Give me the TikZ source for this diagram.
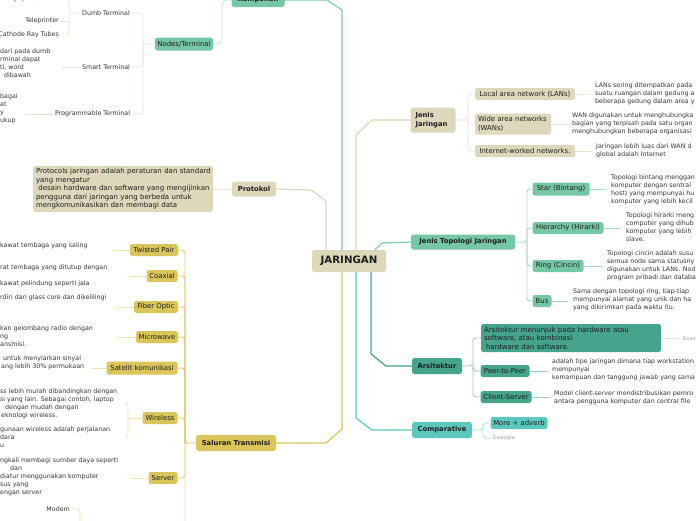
\documentclass[tikz,border=0pt]{standalone}
\usepackage{fontspec}
\setmainfont{DejaVu Sans}
\usetikzlibrary{calc}
\definecolor{cBeige}{HTML}{DDD8BB}
\definecolor{cGreen}{HTML}{76C7A6}
\definecolor{cMus}{HTML}{D9C55A}
\definecolor{cTeal}{HTML}{45A48B}
\definecolor{cTeal2}{HTML}{5CC7BD}
\definecolor{cInk}{HTML}{1E1E1E}
\definecolor{lGreen}{HTML}{7FCBB0}
\definecolor{lGreen2}{HTML}{C6E7DA}
\definecolor{lPale}{HTML}{E3E6CE}
\definecolor{lBeige}{HTML}{DDD6B8}
\definecolor{lBeige2}{HTML}{EBE7D3}
\definecolor{lMus}{HTML}{D9C55A}
\definecolor{lMus2}{HTML}{DDCB70}
\definecolor{lMus3}{HTML}{EFE4AE}
\definecolor{lTopo}{HTML}{A3D9C2}
\definecolor{lTeal}{HTML}{45A48B}
\definecolor{lTeal2}{HTML}{98CEBF}
\definecolor{lComp}{HTML}{5CC7BD}
\definecolor{lComp2}{HTML}{A9E0DA}
\begin{document}
\begin{tikzpicture}[x=1pt,y=-1pt,line join=round,line cap=round,
  box/.style={rounded corners=2.5pt, inner sep=0pt, align=center, text=cInk, font=\fontsize{6.9}{8}\selectfont},
  bbox/.style={box, font=\fontsize{6.8}{8}\selectfont\bfseries},
  tx/.style={inner sep=0pt, align=left, text=cInk!90, font=\fontsize{6.3}{7.9}\selectfont},
  ex/.style={inner sep=0pt, text=black!40, font=\fontsize{5}{6}\selectfont},
  m1/.style={line width=1.2pt},
  m2/.style={line width=0.9pt, rounded corners=3pt},
  m3/.style={line width=0.75pt, rounded corners=3pt}]
\useasboundingbox (0,0) rectangle (696,520);

% ---------- centre ----------
\node[bbox, fill=cBeige, minimum width=74pt, minimum height=22pt, font=\fontsize{10.2}{12}\selectfont\bfseries] (J) at (349,261) {JARINGAN};

% ---------- Komponen ----------
\node[bbox, fill=cGreen, minimum width=53pt, minimum height=14pt] (K) at (258,0) {Komponen};
\node[box, fill=cGreen, minimum width=58pt, minimum height=13pt] (NT) at (184,44) {Nodes/Terminal};
\node[tx, anchor=west] (DT) at (82,13) {Dumb Terminal};
\node[tx, anchor=west] (ST) at (82,67) {Smart Terminal};
\node[tx, anchor=west] (PG) at (55,114) {Programmable Terminal};
\node[tx, anchor=east] (EP) at (43,-1) {kerja proses};
\node[tx, anchor=east] (TP) at (59,21) {Teleprinter};
\node[tx, anchor=east] (CR) at (59,35) {Cathode Ray Tubes};
\node[tx, anchor=north west] (STd) at (0,49) {dari pada dumb\\rminal dapat\\ti, word\\\hspace*{4pt}dibawah};
\node[tx, anchor=north west] (PGd) at (0,94) {bagai\\at\\y\\ukup};

\draw[m1, draw=lGreen] ([xshift=-7pt]J.north) -- (342,10) -- (327,0) -- (K.east);
\draw[m2, draw=lGreen2, rounded corners=5pt] (K.west) -- (222,0) -- (222,44) -- (NT.east);
\draw[m3, draw=lPale] ([xshift=3pt]DT.east) -- (143,13) -- (143,44) -- (NT.west);
\draw[m3, draw=lPale] ([xshift=3pt]ST.east) -- (143,67) -- (143,44);
\draw[m3, draw=lPale] ([xshift=3pt]PG.east) -- (143,114) -- (143,44);
\draw[m3, draw=lPale] ([xshift=-2pt]DT.west) -- (69,13) -- (69,-1) -- ([xshift=3pt]EP.east);
\draw[m3, draw=lPale] (69,13) -- (69,35) -- ([xshift=2pt]CR.east);
\draw[m3, draw=lPale] ([xshift=2pt]TP.east) -- (69,21);
\draw[m3, draw=lPale] ([xshift=-3pt]ST.west) -- ($(STd.east |- ST.west)+(12,0)$);
\draw[m3, draw=lPale] ([xshift=-3pt]PG.west) -- ($(PGd.east |- PG.west)+(7,0)$);

% ---------- Protokol ----------
\node[bbox, fill=cBeige, minimum width=44pt, minimum height=15pt] (P) at (254,189) {Protokol};
\node[box, fill=cBeige, text width=174pt, inner xsep=3pt, align=left, minimum height=46pt, font=\fontsize{7}{8.5}\selectfont] (Pd) at (123,189)
 {\mbox{Protocols jaringan adalah peraturan dan standard}\\yang mengatur\\\mbox{\ desain hardware dan software yang mengijinkan}\\pengguna dari jaringan yang berbeda untuk\\mengkomunikasikan dan membagi data};
\draw[m1, draw=lBeige] ([xshift=-23pt]J.north) -- (326,201) -- (311,190) -- (P.east);
\draw[m3, draw=lBeige2] (Pd.east) -- (P.west);

% ---------- Saluran Transmisi ----------
\node[bbox, fill=cMus, minimum width=80pt, minimum height=16pt] (S) at (236,443) {Saluran Transmisi};
\node[box, fill=cMus, minimum width=48pt, minimum height=12pt] (TW) at (154,250) {Twisted Pair};
\node[box, fill=cMus, minimum width=31pt, minimum height=12pt] (CO) at (162,276) {Coaxial};
\node[box, fill=cMus, minimum width=44pt, minimum height=12pt] (FO) at (156,307) {Fiber Optic};
\node[box, fill=cMus, minimum width=42pt, minimum height=12pt] (MW) at (157,337) {Microwave};
\node[box, fill=cMus, minimum width=71pt, minimum height=13pt] (SK) at (142,368) {Satelit komunikasi};
\node[box, fill=cMus, minimum width=35pt, minimum height=12pt] (WL) at (160,418) {Wireless};
\node[box, fill=cMus, minimum width=29pt, minimum height=12pt] (SV) at (163,478) {Server};

\node[tx, anchor=north west] (TWd) at (0,243) {kawat tembaga yang saling};
\node[tx, anchor=north west] (COd) at (0,265) {rat tembaga yang ditutup dengan\\[8pt]kawat pelindung seperti jala};
\node[tx, anchor=north west] (FOd) at (0,295) {rdiri dari glass core dan dikelilingi};
\node[tx, anchor=north west] (MWd) at (0,326) {kan gelombang radio dengan\\ng\\ansmisi.};
\node[tx, anchor=north west] (SKd) at (1,356) {\hspace*{2pt}untuk menyiarkan sinyal\\ang lebih 30\% permukaan};
\node[tx, anchor=north west] (WLa) at (0,389) {ss lebih murah dibandingkan dengan\\si yang lain. Sebagai contoh, laptop\\\hspace*{5pt}dengan mudah dengan\\\hspace*{1pt}eknologi wireless.};
\node[tx, anchor=north west] (WLb) at (0,427) {gunaan wireless adalah perjalanan\\dara\\u};
\node[tx, anchor=north west] (SVd) at (0,458) {ngkali membagi sumber daya seperti\\\hspace*{10pt}dan\\diatur menggunakan komputer\\sus yang\\engan server};
\node[tx, anchor=east] (MD) at (70,509) {Modem};

\draw[m1, draw=lMus] ([xshift=-7pt]J.south) -- (342,429) -- (326,443) -- (S.east);
\draw[m2, draw=lMus2] (S.west) -- (185,443) -- (185,250) -- (TW.east);
\draw[m2, draw=lMus2] (CO.east) -- (185,276) -- (185,443);
\draw[m2, draw=lMus2] (FO.east) -- (185,307) -- (185,443);
\draw[m2, draw=lMus2] (MW.east) -- (185,337) -- (185,443);
\draw[m2, draw=lMus2] (SK.east) -- (185,368) -- (185,443);
\draw[m2, draw=lMus2] (WL.east) -- (185,418) -- (185,443);
\draw[m2, draw=lMus2] (SV.east) -- (185,478) -- (185,443);
\draw[m2, draw=lMus3] (S.west) -- (185,443) -- (185,526);
\draw[m3, draw=lMus3] (TW.west) -- (113,250);
\draw[m3, draw=lMus3] (CO.west) -- (130,276);
\draw[m3, draw=lMus3] (FO.west) -- (117,307);
\draw[m3, draw=lMus3] (MW.west) -- (118,337);
\draw[m3, draw=lMus3] (SK.west) -- (91,368);
\draw[m3, draw=lMus3] (WL.west) -- (128,418);
\draw[m3, draw=lMus3] (125,403) -- (128,403) -- (128,438) -- (125,438);
\draw[m3, draw=lMus3] (SV.west) -- (132,478);
\draw[m3, draw=lMus3] ([xshift=2pt]MD.east) -- (80,509) -- (80,526);

% ---------- Jenis Jaringan ----------
\node[bbox, fill=cBeige, text width=35pt, inner xsep=5pt, align=left, minimum height=25pt, font=\fontsize{6.8}{9}\selectfont\bfseries] (JJ) at (433,120) {Jenis\\Jaringan};
\node[box, fill=cBeige, minimum width=100pt, minimum height=12pt] (LAN) at (525,94) {Local area network (LANs)};
\node[box, fill=cBeige, text width=70pt, inner xsep=3pt, align=left, minimum height=21pt, font=\fontsize{6.9}{8.5}\selectfont] (WAN) at (513,124) {Wide area networks\\(WANs)};
\node[box, fill=cBeige, minimum width=100pt, minimum height=12pt] (INT) at (525,151) {Internet-worked networks.};
\node[tx, anchor=north west] (LANd) at (595,83) {LANs sering ditempatkan pada\\suatu ruangan dalam gedung a\\beberapa gedung dalam area y};
\node[tx, anchor=north west] (WANd) at (572,113) {WAN digunakan untuk menghubungka\\bagian yang terpisah pada satu organ\\menghubungkan beberapa organisasi};
\node[tx, anchor=north west] (INTd) at (596,144) {Jaringan lebih luas dari WAN d\\global adalah Internet};

\draw[m1, draw=lBeige] ([xshift=7pt]J.north) -- (356,135) -- (372,120) -- (JJ.west);
\draw[m2, draw=lBeige2] (JJ.east) -- (468,120) -- (468,94) -- (LAN.west);
\draw[m2, draw=lBeige2] (WAN.west) -- (468,124) -- (468,120);
\draw[m2, draw=lBeige2] (INT.west) -- (468,151) -- (468,120);
\draw[m3, draw=lBeige2] (LAN.east) -- (590,94);
\draw[m3, draw=lBeige2] (WAN.east) -- (568,124);
\draw[m3, draw=lBeige2] (INT.east) -- (592,151);

% ---------- Jenis Topologi Jaringan ----------
\node[bbox, fill=cGreen, minimum width=104pt, minimum height=15pt] (T) at (463,242) {Jenis Topologi Jaringan};
\node[box, fill=cGreen, minimum width=57pt, minimum height=13pt] (STAR) at (561,189) {Star (Bintang)};
\node[box, fill=cGreen, minimum width=71pt, minimum height=12pt] (HIER) at (568,228) {Hierarchy (Hirarki)};
\node[box, fill=cGreen, minimum width=51pt, minimum height=12pt] (RING) at (558,266) {Ring (Cincin)};
\node[box, fill=cGreen, minimum width=19pt, minimum height=12pt] (BUS) at (542,301) {Bus};
\node[tx, anchor=north west] (STARd) at (611,175) {Topologi bintang menggan\\komputer dengan sentral\\host) yang mempunyai hu\\komputer yang lebih kecil};
\node[tx, anchor=north west] (HIERd) at (626,213) {Topologi hirarki meng\\computer yang dihub\\komputer yang lebih\\slave.};
\node[tx, anchor=north west] (RINGd) at (607,251) {Topologi cincin adalah susu\\semua node sama statusny\\digunakan untuk LANs. Nod\\program pribadi dan databa};
\node[tx, anchor=north west] (BUSd) at (573,289) {Sama dengan topologi ring, tiap-tiap\\mempunyai alamat yang unik dan ha\\yang dikirimkan pada waktu itu.};

\draw[m1, draw=lGreen] ([xshift=26pt]J.north) -- (382,243) -- (T.west);
\draw[m2, draw=lTopo] (T.east) -- (527,242) -- (527,189) -- (STAR.west);
\draw[m2, draw=lTopo] (HIER.west) -- (527,228) -- (527,242);
\draw[m2, draw=lTopo] (RING.west) -- (527,266) -- (527,242);
\draw[m2, draw=lTopo] (BUS.west) -- (527,301) -- (527,242);
\draw[m3, draw=lTopo] (STAR.east) -- (606,189);
\draw[m3, draw=lTopo] (HIER.east) -- (620,228);
\draw[m3, draw=lTopo] (RING.east) -- (602,266);
\draw[m3, draw=lTopo] (BUS.east) -- (568,301);

% ---------- Arsitektur ----------
\node[bbox, fill=cTeal, minimum width=50pt, minimum height=16pt] (A) at (437,366) {Arsitektur};
\node[box, fill=cTeal, text width=174pt, inner xsep=3pt, align=left, minimum height=28pt, font=\fontsize{7}{8.5}\selectfont] (Ad) at (571,338)
 {\mbox{Arsitektur menunjuk pada hardware atau}\\software, atau kombinasi\\\hspace*{2pt}hardware dan software.};
\node[box, fill=cTeal, minimum width=49pt, minimum height=12pt] (PEER) at (505,371) {Peer-to-Peer};
\node[box, fill=cTeal, minimum width=51pt, minimum height=12pt] (CS) at (506,397) {Client-Server};
\node[ex, anchor=west] (AEx) at (683,339) {Example};
\node[tx, anchor=north west] (PEERd) at (552,359) {adalah tipe jaringan dimana tiap workstation\\mempunyai\\kemampuan dan tanggung jawab yang sama};
\node[tx, anchor=north west] (CSd) at (554,391) {Model client-server mendistribusikan pemro\\antara pengguna komputer dan central file};

\draw[m1, draw=lTeal] ([xshift=22pt]J.south) -- (371,354) -- (386,366) -- (A.west);
\draw[m2, draw=lTeal2] (A.east) -- (473,366) -- (473,338) -- (Ad.west);
\draw[m2, draw=lTeal2] (PEER.west) -- (473,371) -- (473,366);
\draw[m2, draw=lTeal2] (CS.west) -- (473,397) -- (473,366);
\draw[m3, draw=black!15] (Ad.east) -- ([xshift=-3pt]AEx.west);
\draw[m3, draw=lTeal2] (PEER.east) -- (548,371);
\draw[m3, draw=lTeal2] (CS.east) -- (550,397);

% ---------- Comparative ----------
\node[bbox, fill=cTeal2, minimum width=60pt, minimum height=16pt] (C) at (442,430) {Comparative};
\node[box, fill=cTeal2, minimum width=57pt, minimum height=12pt] (MA) at (519,423) {More + adverb};
\node[ex, anchor=west] (CEx) at (493,438) {Example};
\draw[m1, draw=lComp] ([xshift=7pt]J.south) -- (356,418) -- (372,430) -- (C.west);
\draw[m2, draw=lComp2] (C.east) -- (483,430) -- (483,423) -- (MA.west);
\draw[m3, draw=lComp2] (483,430) -- (483,438) -- ([xshift=-2pt]CEx.west);
\end{tikzpicture}
\end{document}
